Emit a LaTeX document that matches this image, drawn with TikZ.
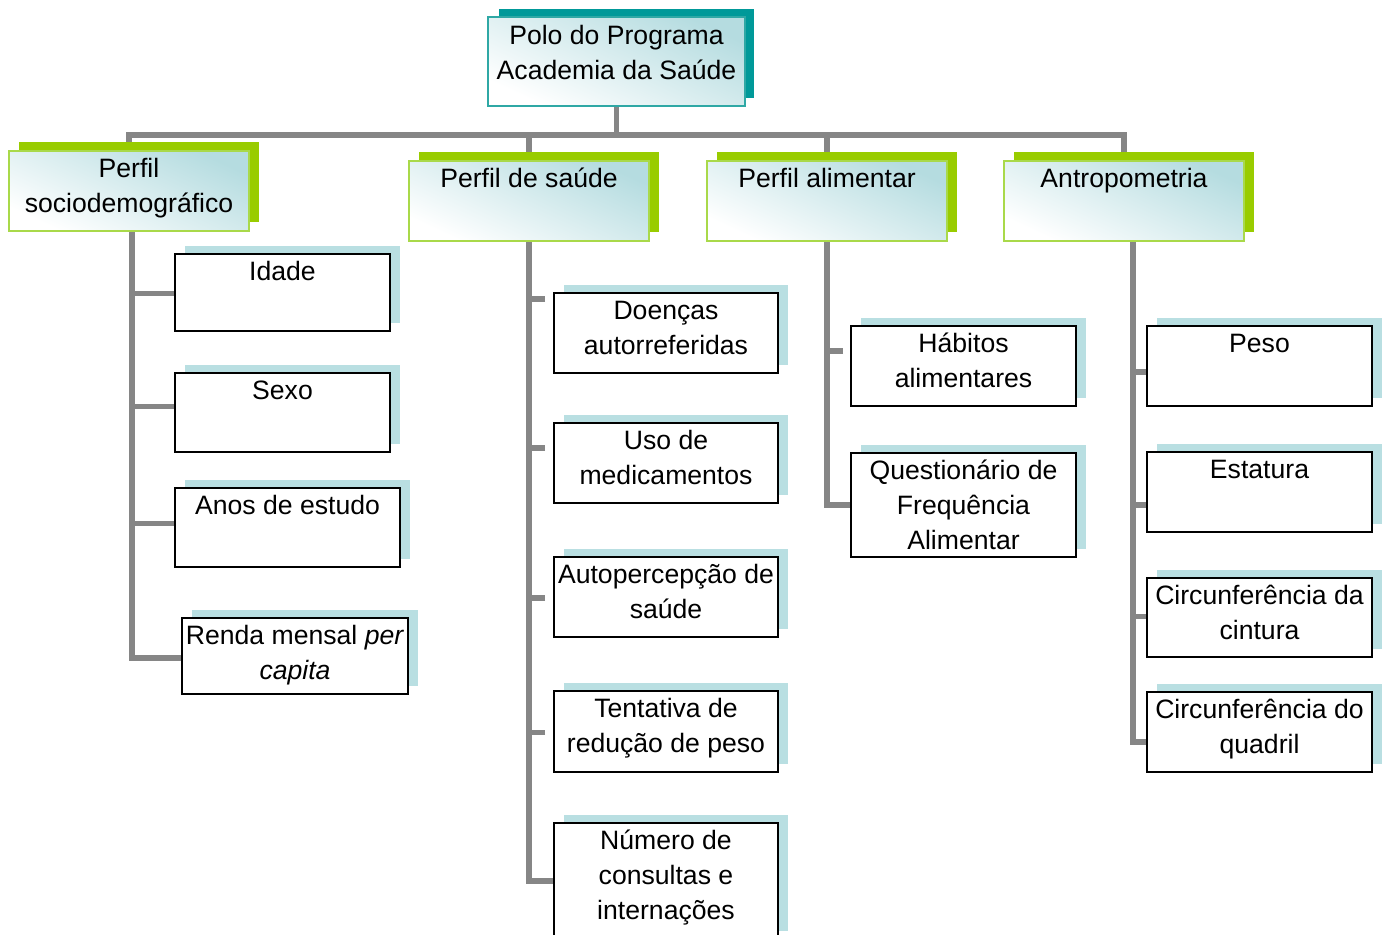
\documentclass[tikz,border=0pt]{standalone}
\usepackage{fontspec}
\setmainfont{Liberation Sans}
\usetikzlibrary{calc}
\definecolor{cgray}{HTML}{868686}
\definecolor{cgreen}{HTML}{99CC00}
\definecolor{cgreenL}{HTML}{A9D94A}
\definecolor{cteal}{HTML}{009999}
\definecolor{ctealB}{HTML}{2FA8A5}
\definecolor{ctealL}{HTML}{B5DCE0}
\definecolor{cleafsh}{HTML}{B9DFE2}
\pgfdeclarelayer{bg}
\pgfsetlayers{bg,main}
\tikzset{
  leafst/.style={draw=black, line width=1pt, fill=white, inner sep=0pt},
  lvlst/.style={draw=cgreenL, line width=1pt, top color=ctealL, bottom color=white, shading angle=-25, inner sep=0pt},
  rootst/.style={draw=ctealB, line width=1pt, top color=ctealL, bottom color=white, shading angle=-25, inner sep=0pt},
  txt/.style={anchor=north, inner sep=0pt, align=center, font=\fontsize{13.3}{17.5}\selectfont},
  connst/.style={draw=cgray, line width=2.8pt},
}
\newcommand\leafbox[6]{%
  \fill[cleafsh] (#2+11,#3-7) rectangle (#4+11,#5-7);
  \node[leafst, minimum width={(#4-#2)*0.5pt}, minimum height={(#5-#3)*0.5pt}, anchor=north west] (#1) at (#2,#3) {};
  \node[txt] (#1-t) at (#1.north) {\rule{0pt}{13.6pt}#6};
}
\newcommand\lvlbox[6]{%
  \fill[cgreen] (#2+11,#3-8) rectangle (#4+11,#5-8);
  \node[lvlst, minimum width={(#4-#2)*0.5pt}, minimum height={(#5-#3)*0.5pt}, anchor=north west] (#1) at (#2,#3) {};
  \node[txt] (#1-t) at (#1.north) {\rule{0pt}{13.3pt}#6};
}
\begin{document}
\begin{tikzpicture}[x=0.5pt,y=-0.5pt]
\useasboundingbox (0,0) rectangle (1386,934);
% root
\fill[cteal] (499,9) rectangle (754,98);
\node[rootst, minimum width={257*0.5pt}, minimum height={89*0.5pt}, anchor=north west] (root) at (487,16) {};
\node[txt] (root-t) at (root.north) {\rule{0pt}{14.2pt}Polo do Programa\\Academia da Saúde};
% level 1
\lvlbox{n1}{8}{150}{248}{230}{Perfil\\sociodemográfico}
\lvlbox{n2}{408}{160}{648}{240}{Perfil de saúde}
\lvlbox{n3}{706}{160}{946}{240}{Perfil alimentar}
\lvlbox{n4}{1003}{160}{1243}{240}{Antropometria}
% column 1
\leafbox{idade}{174}{253}{389}{330}{Idade}
\leafbox{sexo}{174}{372}{389}{451}{Sexo}
\leafbox{anos}{174}{487}{399}{566}{Anos de estudo}
\leafbox{renda}{181}{617}{407}{693}{Renda mensal \textit{per}\\\textit{capita}}
% column 2
\leafbox{doencas}{553}{292}{777}{372}{Doenças\\autorreferidas}
\leafbox{uso}{553}{422}{777}{502}{Uso de\\medicamentos}
\leafbox{auto}{553}{556}{777}{636}{Autopercepção de\\saúde}
\leafbox{tent}{553}{690}{777}{771}{Tentativa de\\redução de peso}
\leafbox{num}{553}{822}{777}{938}{Número de\\consultas e\\internações}
% column 3
\leafbox{habitos}{850}{325}{1075}{405}{Hábitos\\alimentares}
\leafbox{quest}{850}{452}{1075}{556}{Questionário de\\Frequência\\Alimentar}
% column 4
\leafbox{peso}{1146}{325}{1371}{405}{Peso}
\leafbox{estatura}{1146}{451}{1371}{531}{Estatura}
\leafbox{cintura}{1146}{577}{1371}{656}{Circunferência da\\cintura}
\leafbox{quadril}{1146}{691}{1371}{771}{Circunferência do\\quadril}
% connectors
\begin{pgfonlayer}{bg}
\coordinate (bar) at (615,135);
\draw[connst] (root.south) -- (root.south |- bar);
\draw[connst] (n1.north) |- (bar) -| (n4.north);
\draw[connst] (n2.north) -- (n2.north |- bar);
\draw[connst] (n3.north) -- (n3.north |- bar);
% col 1
\coordinate (t1) at ($(n1.south)+(3,0)$);
\coordinate (s10) at ($(renda.west)+(0,2)$);
\coordinate (s11) at ($(idade.west)+(0,1)$);
\coordinate (s12) at ($(sexo.west)+(0,-6)$);
\coordinate (s13) at ($(anos.west)+(0,-4)$);
\draw[connst] (t1) |- (s10);
\draw[connst] (s11) -- (s11 -| t1);
\draw[connst] (s12) -- (s12 -| t1);
\draw[connst] (s13) -- (s13 -| t1);
% col 2
\coordinate (t2) at (n2.south);
\draw[connst] (t2) |- (num.west);
\coordinate (s21) at ($(doencas.west)+(-8,-34)$);
\coordinate (s22) at ($(uso.west)+(-8,-15)$);
\coordinate (s23) at ($(auto.west)+(-8,1)$);
\coordinate (s24) at ($(tent.west)+(-8,1)$);
\draw[connst] (s21) -- (s21 -| t2);
\draw[connst] (s22) -- (s22 -| t2);
\draw[connst] (s23) -- (s23 -| t2);
\draw[connst] (s24) -- (s24 -| t2);
% col 3
\coordinate (t3) at (n3.south);
\draw[connst] (t3) |- (quest.west);
\coordinate (s31) at ($(habitos.west)+(-7,-15)$);
\draw[connst] (s31) -- (s31 -| t3);
% col 4
\coordinate (t4) at ($(n4.south)+(9,0)$);
\coordinate (s40) at ($(quadril.west)+(0,10)$);
\coordinate (s41) at ($(peso.west)+(0,6)$);
\coordinate (s42) at ($(estatura.west)+(0,13)$);
\coordinate (s43) at ($(cintura.west)+(0,-1)$);
\draw[connst] (t4) |- (s40);
\draw[connst] (s41) -- (s41 -| t4);
\draw[connst] (s42) -- (s42 -| t4);
\draw[connst] (s43) -- (s43 -| t4);
\end{pgfonlayer}
\end{tikzpicture}
\end{document}
